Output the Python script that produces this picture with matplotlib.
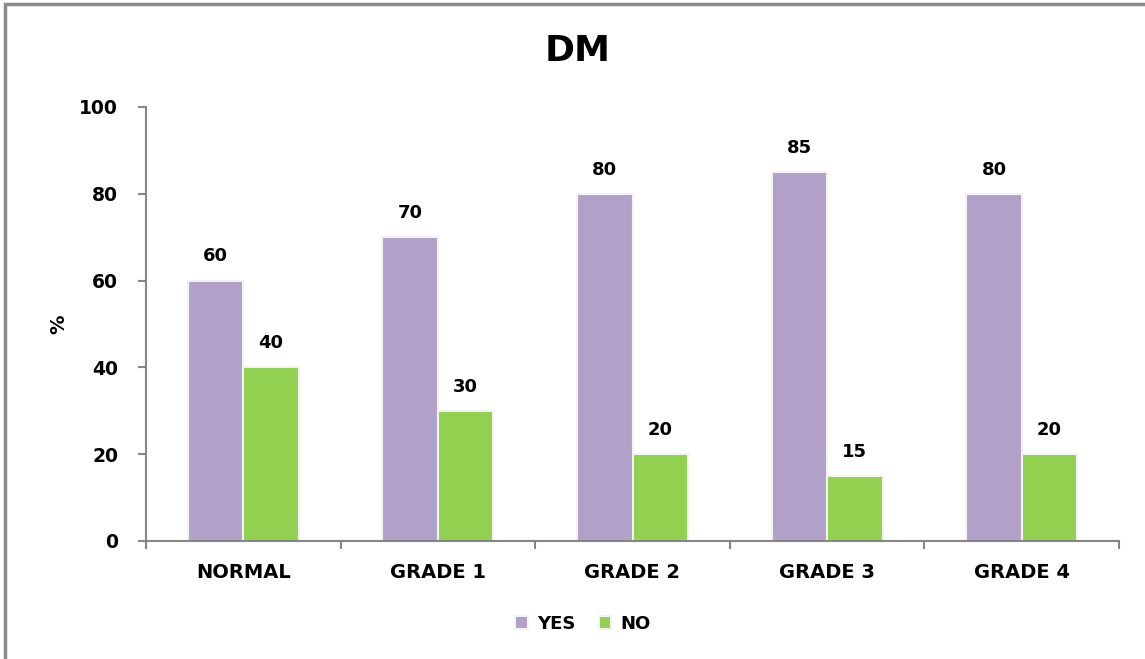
import matplotlib
matplotlib.use("Agg")
import matplotlib.pyplot as plt
from matplotlib.patches import Rectangle
import numpy as np

categories = ["NORMAL", "GRADE 1", "GRADE 2", "GRADE 3", "GRADE 4"]
yes_values = [60, 70, 80, 85, 80]
no_values = [40, 30, 20, 15, 20]
series_names = ["YES", "NO"]
yticks = [0, 20, 40, 60, 80, 100]

plt.rcParams['font.family'] = ['DejaVu Sans']

fig = plt.figure(figsize=(11.45, 6.59), dpi=100)
ax = fig.add_axes([146/1145, 1-541/659, (1119-146)/1145, (541-107)/659])

x = np.arange(len(categories))
w = 0.285
c_yes = "#B1A0C7"
c_no = "#92D050"
b1 = ax.bar(x - w/2, yes_values, w, color=c_yes, edgecolor="#F2F2F2", linewidth=1.5, label=series_names[0])
b2 = ax.bar(x + w/2, no_values, w, color=c_no, edgecolor="#F2F2F2", linewidth=1.5, label=series_names[1])

for bars, vals in ((b1, yes_values), (b2, no_values)):
    for r, v in zip(bars, vals):
        ax.annotate(str(v), (r.get_x() + r.get_width()/2, v), xytext=(0, 11),
                    textcoords="offset points", ha="center", va="bottom",
                    fontsize=13, fontweight="bold", color="#000000")

ax.set_xlim(-0.5, len(categories) - 0.5)
ax.set_ylim(0, 100)
ax.set_yticks(yticks)
ax.set_yticklabels([str(t) for t in yticks], fontsize=13.5, fontweight="bold")
ax.set_xticks(x)
ax.set_xticklabels(categories, fontsize=14, fontweight="bold")
ax.tick_params(axis="x", length=0, pad=16)
ax.set_xticks(np.arange(len(categories) + 1) - 0.5, minor=True)
ax.tick_params(axis="x", which="minor", length=6, color="#868686", width=1.5)
ax.tick_params(axis="y", length=6, color="#868686", width=1.5, pad=14)
for s in ("top", "right"):
    ax.spines[s].set_visible(False)
for s in ("left", "bottom"):
    ax.spines[s].set_color("#868686")
    ax.spines[s].set_linewidth(1.5)

ax.set_ylabel("%", fontsize=14, fontweight="bold")
ax.yaxis.set_label_coords(-0.08, 0.5)

fig.text(578/1145, 1-51/659, "DM", ha="center", va="center", fontsize=26, fontweight="bold")

leg = ax.legend(loc="center", bbox_to_anchor=(583/1145, 1-624/659), bbox_transform=fig.transFigure,
                ncol=2, frameon=False, handlelength=0.7, handleheight=0.7, handletextpad=0.5,
                columnspacing=1.3, prop={"size": 13, "weight": "bold"})

fig.patches.append(Rectangle((5/1145, -0.1), 1.2, 1 - 4/659 + 0.1, transform=fig.transFigure,
                             fill=False, edgecolor="#8C8C8C", linewidth=2.5))

fig.savefig("out.png", dpi=100)
